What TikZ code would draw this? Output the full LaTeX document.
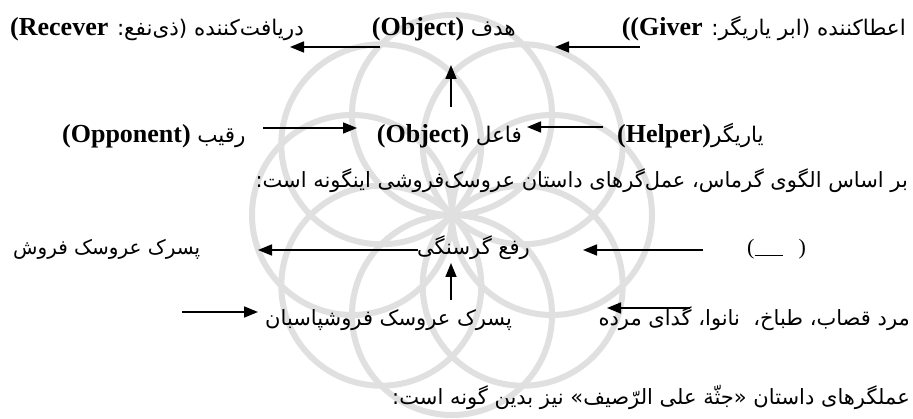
\documentclass[tikz,border=0pt]{standalone}
\usepackage{fontspec}
\setmainfont{Liberation Serif}
\newfontfamily\fa[Script=Arabic]{DejaVu Sans}
\TeXXeTstate=1
\usetikzlibrary{arrows.meta}
\newcommand\pa[1]{{\fa\fontsize{21.5}{24}\selectfont #1}}
\begin{document}
\begin{tikzpicture}[x=1pt,y=-1pt,
  arr/.style={line width=1.7pt,-{Triangle[length=14pt,width=11pt]}},
  lat/.style={inner sep=0pt,font=\fontsize{26}{29}\selectfont},
  per/.style={inner sep=0pt,font=\fa\fontsize{21}{25}\selectfont},
  wm/.style={draw=black!12,line width=6pt}]
\useasboundingbox[fill=white] (0,0) rectangle (913,419);
% watermark
\foreach \a in {0,45,...,315} \draw[wm] (452,215) ++(\a:100) circle[radius=100];
% row 1
\node[lat,anchor=base east] (giver) at (906,36) {\beginR\pa{اعطاکننده (ابر یاریگر:} \beginL\textbf{((Giver}\endL\endR};
\node[lat,anchor=base east] (obj1) at (516,36) {\beginR\pa{هدف} \beginL\textbf{(Object)}\endL\endR};
\node[lat,anchor=base west] (recv) at (10,36) {\beginR\pa{دریافت^^^^200cکننده (ذی^^^^200cنفع:} \beginL\textbf{(Recever}\endL\endR};
% row 2
\node[lat,anchor=base west] (helper) at (617,143) {\beginR\pa{یاریگر}\beginL\textbf{(Helper)}\endL\endR};
\node[lat,anchor=base east] (obj2) at (522,143) {\beginR\pa{فاعل} \beginL\textbf{(Object)}\endL\endR};
\node[lat,anchor=base west] (opp) at (62,143) {\beginR\pa{رقیب} \beginL\textbf{(Opponent)}\endL\endR};
% row 3
\node[per,anchor=base east] (intro) at (908,188) {\beginR بر اساس الگوی گرماس، عمل^^^^200cگرهای داستان عروسک^^^^200cفروشی اینگونه است:\endR};
% row 4
\node[inner sep=0pt,anchor=base west,font=\fontsize{22}{25}\selectfont] (blank) at (747,255) {(\rule[-1pt]{28pt}{1pt}\hspace{16pt})};
\node[per,anchor=base east] (hunger) at (530,255) {\beginR رفع گرسنگی\endR};
\node[per,anchor=base west,font=\fa\fontsize{20}{24}\selectfont] (boy) at (13,255) {\beginR پسرک عروسک فروش\endR};
% row 5
\node[per,anchor=base east] (cooks) at (910,326) {\beginR مرد قصاب، طباخ،\ \ نانوا، گدای مرده\endR};
\node[per,anchor=base west] (guard) at (265,326) {\beginR پسرک عروسک فروشپاسبان\endR};
% row 6
\node[per,anchor=base east] (next) at (910,405) {\beginR عملگرهای داستان «جثّة علی الرّصیف» نیز بدین گونه است:\endR};
% arrows
\coordinate (a1s) at (640,47); \coordinate (a1e) at (555,47);
\coordinate (a2s) at (380,47); \coordinate (a2e) at (290,47);
\coordinate (v1s) at (451,107); \coordinate (v1e) at (451,65);
\coordinate (a3s) at (603,127); \coordinate (a3e) at (527,127);
\coordinate (a4s) at (263,128); \coordinate (a4e) at (357,128);
\coordinate (a5s) at (703,250); \coordinate (a5e) at (583,250);
\coordinate (a6s) at (418,250); \coordinate (a6e) at (258,250);
\coordinate (v2s) at (451,300); \coordinate (v2e) at (451,263);
\coordinate (a7s) at (690,308); \coordinate (a7e) at (607,308);
\coordinate (a8s) at (182,312); \coordinate (a8e) at (258,312);
\foreach \p in {a1,a2,v1,a3,a4,a5,a6,v2,a7,a8} \draw[arr] (\p s) -- (\p e);
\end{tikzpicture}
\end{document}
